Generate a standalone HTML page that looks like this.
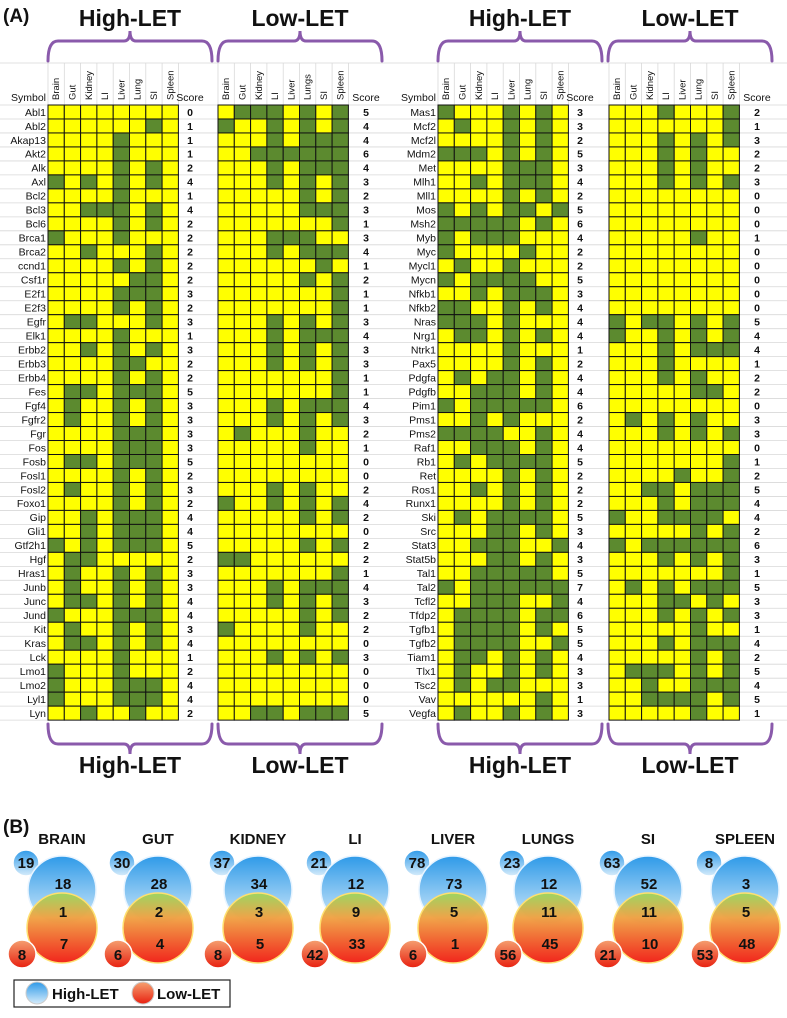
<!DOCTYPE html>
<html><head><meta charset="utf-8"><style>
body{margin:0;background:#fff;}
svg{display:block;font-family:"Liberation Sans",sans-serif;}
</style></head><body>
<svg id="fig" width="787" height="1018" viewBox="0 0 787 1018">
<defs>
<linearGradient id="gb" x1="0" y1="0" x2="0" y2="1"><stop offset="0" stop-color="#2f9ae8"/><stop offset="1" stop-color="#d6ecfb"/></linearGradient>
<linearGradient id="go" x1="0" y1="0" x2="0" y2="1"><stop offset="0" stop-color="#9ed65a"/><stop offset="0.35" stop-color="#f0a040"/><stop offset="1" stop-color="#f01a10"/></linearGradient>
<linearGradient id="gso" x1="0" y1="0" x2="0" y2="1"><stop offset="0" stop-color="#f5a070"/><stop offset="1" stop-color="#e82010"/></linearGradient>
</defs>
<g id="grid"></g>
<g id="venn"></g>
</svg>
<script>
const tissuesHigh=["Brain","Gut","Kidney","LI","Liver","Lung","SI","Spleen"];
const tissuesLow1=["Brain","Gut","Kidney","LI","Liver","Lungs","SI","Spleen"];
const tissuesLow2=["Brain","Gut","Kidney","LI","Liver","Lung","SI","Spleen"];
const genesLeft=["Abl1","Abl2","Akap13","Akt2","Alk","Axl","Bcl2","Bcl3","Bcl6","Brca1","Brca2","ccnd1","Csf1r","E2f1","E2f3","Egfr","Elk1","Erbb2","Erbb3","Erbb4","Fes","Fgf4","Fgfr2","Fgr","Fos","Fosb","Fosl1","Fosl2","Foxo1","Gip","Gli1","Gtf2h1","Hgf","Hras1","Junb","Junc","Jund","Kit","Kras","Lck","Lmo1","Lmo2","Lyl1","Lyn"];
const genesRight=["Mas1","Mcf2","Mcf2l","Mdm2","Met","Mlh1","Mll1","Mos","Msh2","Myb","Myc","Mycl1","Mycn","Nfkb1","Nfkb2","Nras","Nrg1","Ntrk1","Pax5","Pdgfa","Pdgfb","Pim1","Pms1","Pms2","Raf1","Rb1","Ret","Ros1","Runx1","Ski","Src","Stat3","Stat5b","Tal1","Tal2","Tcfl2","Tfdp2","Tgfb1","Tgfb2","Tiam1","Tlx1","Tsc2","Vav","Vegfa"];
const highLeft=["00000000","00000010","00001000","00001000","00001010","10101010","00001000","00111010","00001010","10001000","00100010","00001010","00000110","00001110","00001010","01100010","00001000","00101010","00001100","00001010","01101110","01001010","01001010","00001110","00001110","01101110","00001010","01001010","00001010","00101110","00101110","10101110","01100000","01001010","01001010","01101010","10001110","01001010","01101010","00001000","10001000","10001110","10001110","00100100"];
const lowLeft=["01110101","10010101","00010111","00111111","00010111","00010101","00000101","00000111","00000001","00011100","00010111","00000010","00000101","00000001","00000001","00010101","00010111","00010101","00010101","00000001","00000001","00010111","00010101","01000100","00000100","00000000","00000000","00010100","10010101","00000101","00000000","00000101","11000000","00000001","00010111","00010101","00000101","10000100","00000000","00010101","00000000","00000000","00000000","00110111"];
const highRight=["10001010","01001010","00001010","11101010","00001110","00101110","00001010","10101101","11111010","10111000","10000100","01001000","10111100","00101110","11001010","11101000","01101010","00001000","00001010","01011010","00111010","10111110","00101000","11110010","00111010","01011110","00001010","00101010","00001010","01011110","00011010","00111001","00011010","00111110","10111111","00111001","01111011","01111010","01111001","01101010","01001010","01011000","00000010","01001010"];
const lowRight=["00010001","00000001","00010101","00010100","00010100","00010101","00000000","00000000","00000000","00000100","00000000","00000000","00000000","00000000","00000000","10110101","10010101","00010111","00010000","00010100","00000110","00000000","01010100","00010101","00000000","00000001","00001001","00110111","00010111","10011110","00000101","10111111","00010101","00000001","01010111","00011010","00010101","00000100","00010111","00000101","01110101","00100111","00111101","00000100"];
const scoresHighLeft=[0,1,1,1,2,4,1,4,2,2,2,2,2,3,2,3,1,3,2,2,5,3,3,3,3,5,2,3,2,4,4,5,2,3,3,4,4,3,4,1,2,4,4,2];
const scoresLowLeft=[5,4,4,6,4,3,2,3,1,3,4,1,2,1,1,3,4,3,3,1,1,4,3,2,1,0,0,2,4,2,0,2,2,1,4,3,2,2,0,3,0,0,0,5];
const scoresHighRight=[3,3,2,5,3,4,2,5,6,4,2,2,5,3,4,4,4,1,2,4,4,6,2,4,4,5,2,2,2,5,3,4,3,5,7,4,6,5,5,4,3,3,1,3];
const scoresLowRight=[2,1,3,2,2,3,0,0,0,1,0,0,0,0,0,5,4,4,1,2,2,0,3,3,0,1,2,5,4,4,2,6,3,1,5,3,3,1,4,2,5,4,5,1];
const vennTissues=["BRAIN","GUT","KIDNEY","LI","LIVER","LUNGS","SI","SPLEEN"];
const vennHighTotal=[19,30,37,21,78,23,63,8];
const vennHighOnly=[18,28,34,12,73,12,52,3];
const vennShared=[1,2,3,9,5,11,11,5];
const vennLowOnly=[7,4,5,33,1,45,10,48];
const vennLowTotal=[8,6,8,42,6,56,21,53];

const NS="http://www.w3.org/2000/svg";
function mk(tag,attrs,parent,txt){const e=document.createElementNS(NS,tag);for(const k in attrs)e.setAttribute(k,attrs[k]);if(txt!==undefined)e.textContent=txt;parent.appendChild(e);return e;}
const G=document.getElementById('grid');
const CW=16.3, RH=13.98, Y0=105;
const rowY=i=>Y0+i*RH;
const colX=(x0,j)=>x0+j*CW;
const GREEN="#5c8a2f", YEL="#ffff00";

// row separator lines
for(let i=0;i<=44;i++){
  const l=mk('line',{x1:0,x2:787,y1:rowY(i),y2:rowY(i),stroke:"#d8d8d8","stroke-width":0.8},G);
  
  
}
mk('line',{x1:0,x2:787,y1:63,y2:63,stroke:"#d8d8d8","stroke-width":0.8},G);

function block(x0,genes,rows,scores,scoreX,tissues,name,showGenes){
  const g=mk('g',{},G);
  
  
  // header column labels
  tissues.forEach((t,j)=>{
    const cx=colX(x0,j)+CW/2+3;
    const tx=mk('text',{x:0,y:0,transform:`translate(${cx},100) rotate(-90)`,"font-size":9.5,fill:"#111"},g,t);
    
    
    const vl=mk('line',{x1:colX(x0,j),x2:colX(x0,j),y1:63,y2:Y0,stroke:"#d8d8d8","stroke-width":0.8},g);
  });
  mk('line',{x1:colX(x0,8),x2:colX(x0,8),y1:63,y2:Y0,stroke:"#d8d8d8","stroke-width":0.8},g);
  const sl=mk('text',{x:scoreX,y:101,"font-size":10.5,"text-anchor":"middle",fill:"#111"},g,"Score");
  
  
  if(showGenes){
    const sy=mk('text',{x:x0-2,y:101,"font-size":10.5,"text-anchor":"end",fill:"#111"},g,"Symbol");
    
    
  }
  rows.forEach((r,i)=>{
    if(showGenes){
      const gt=mk('text',{x:x0-2,y:rowY(i)+10.8,"font-size":10.5,"text-anchor":"end",fill:"#111"},g,genes[i]);
      
      
    }
    for(let j=0;j<8;j++){
      const c=mk('rect',{x:colX(x0,j),y:rowY(i),width:CW,height:RH,fill:r[j]==="1"?GREEN:YEL,stroke:"#111","stroke-width":1},g);
      
      
    }
    const st=mk('text',{x:scoreX,y:rowY(i)+10.8,"font-size":10.5,"font-weight":"bold","text-anchor":"middle",fill:"#111"},g,String(scores[i]));
    
    
  });
}
block(48,genesLeft,highLeft,scoresHighLeft,190,tissuesHigh,'left-high-let-block',true);
block(218,genesLeft,lowLeft,scoresLowLeft,366,tissuesLow1,'left-low-let-block',false);
block(438,genesRight,highRight,scoresHighRight,580,tissuesHigh,'right-high-let-block',true);
block(609,genesRight,lowRight,scoresLowRight,757,tissuesLow2,'right-low-let-block',false);

// braces
function brace(x1,x2,yBase,up,name){
  const m=(x1+x2)/2, d=up?-1:1; // up: bracket opens downward (top)
  const yEdge=yBase, yBar=yBase+d*20, yTip=yBar+d*10;
  const p=`M${x1},${yEdge} Q${x1},${yBar} ${x1+10},${yBar} L${m-6},${yBar} Q${m},${yBar} ${m},${yTip} Q${m},${yBar} ${m+6},${yBar} L${x2-10},${yBar} Q${x2},${yBar} ${x2},${yEdge}`;
  const b=mk('path',{d:p,fill:"none",stroke:"#8a5aab","stroke-width":3,"stroke-linecap":"round"},G);
  
  
}
[[48,212],[218,382],[438,602],[608,772]].forEach(([a,b],k)=>{
  brace(a,b,61,true,'top-brace');
  brace(a,b,724,false,'bottom-brace');
  const lab=k%2===0?"High-LET":"Low-LET";
  const t1=mk('text',{x:(a+b)/2,y:26,"font-size":23,"font-weight":"bold","text-anchor":"middle",fill:"#111"},G,lab);
  
  
  const t2=mk('text',{x:(a+b)/2,y:773,"font-size":23,"font-weight":"bold","text-anchor":"middle",fill:"#111"},G,lab);
  
  
});
const pa=mk('text',{x:3,y:22,"font-size":19,"font-weight":"bold",fill:"#111"},G,"(A)");


const pb=mk('text',{x:3,y:833,"font-size":19,"font-weight":"bold",fill:"#111"},G,"(B)");



// venn diagrams
const V=document.getElementById('venn');
const vennX=[62,158,258,355,453,548,648,745];
vennTissues.forEach((t,k)=>{
  const cx=vennX[k];
  const g=mk('g',{},V);
  
  
  const tt=mk('text',{x:cx,y:844,"font-size":15,"font-weight":"bold","text-anchor":"middle",fill:"#111"},g,t);
  
  
  mk('circle',{cx:cx-36,cy:863,r:13,fill:"url(#gb)",stroke:"#fff","stroke-width":1.5},g);
  mk('circle',{cx:cx,cy:890,r:34,fill:"url(#gb)",stroke:"#e8f4ff","stroke-width":1.5},g);
  mk('circle',{cx:cx,cy:928,r:35,fill:"url(#go)",stroke:"#ffe070","stroke-width":1.5,"fill-opacity":0.95},g);
  mk('circle',{cx:cx-40,cy:954,r:14,fill:"url(#gso)",stroke:"#fff","stroke-width":1.5},g);
  const fs=15;
  [[cx-36,868,vennHighTotal[k]],[cx+1,889,vennHighOnly[k]],[cx+1,917,vennShared[k]],[cx+2,949,vennLowOnly[k]],[cx-40,960,vennLowTotal[k]]].forEach(([x,y,v])=>{
    const n=mk('text',{x:x,y:y,"font-size":fs,"font-weight":"bold","text-anchor":"middle",fill:"#111"},g,String(v));
    
    
  });
});
// legend
const L=mk('g',{},V);


mk('rect',{x:14,y:980,width:216,height:27,fill:"#fff",stroke:"#222","stroke-width":1.2},L);
mk('circle',{cx:37,cy:993,r:11,fill:"url(#gb)",stroke:"#ccc"},L);
const l1=mk('text',{x:52,y:999,"font-size":15,"font-weight":"bold",fill:"#111"},L,"High-LET");


mk('circle',{cx:143,cy:993,r:11,fill:"url(#gso)",stroke:"#ccc"},L);
const l2=mk('text',{x:157,y:999,"font-size":15,"font-weight":"bold",fill:"#111"},L,"Low-LET");


</script>
</body></html>
